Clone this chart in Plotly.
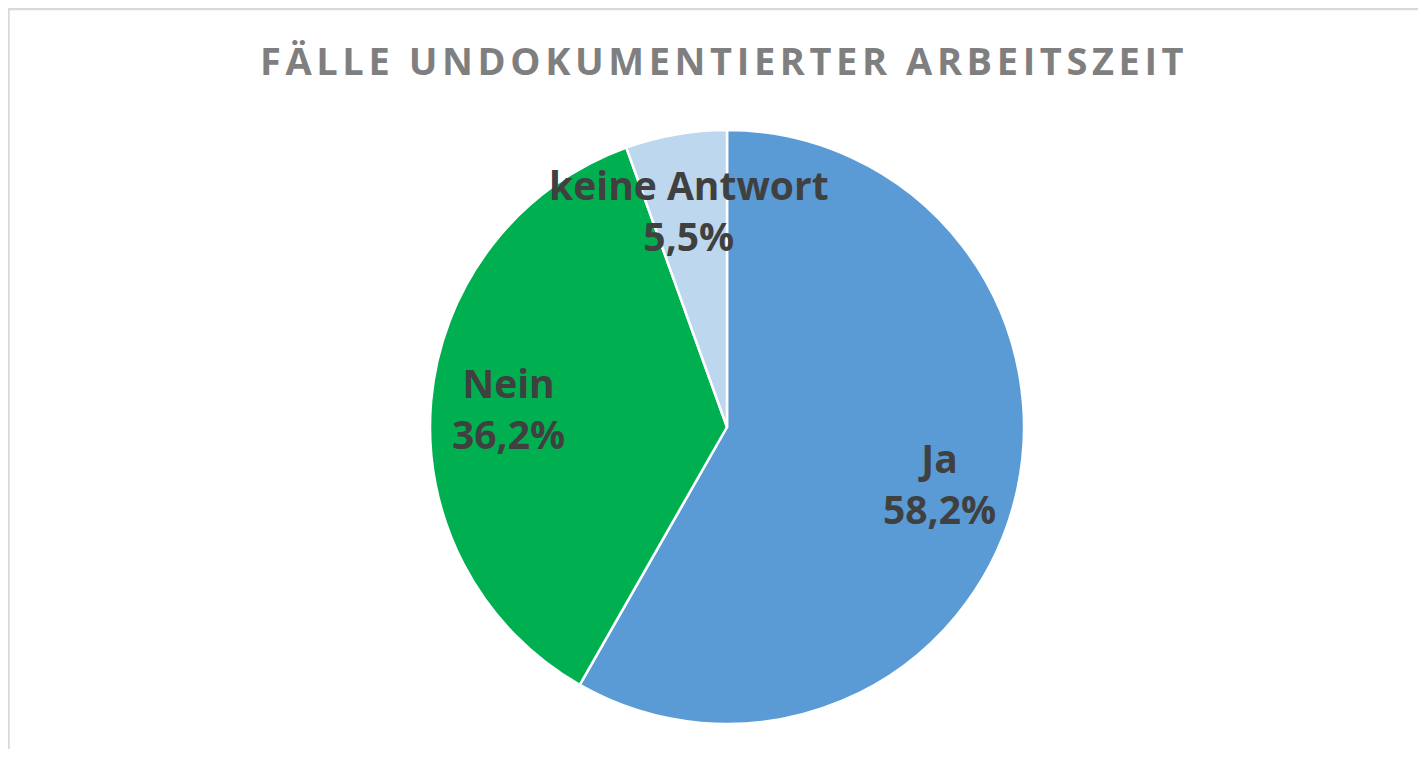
import math
import plotly.graph_objects as go

categories = ["Ja", "Nein", "keine Antwort"]
values = [58.2, 36.2, 5.5]
value_labels = ["58,2%", "36,2%", "5,5%"]
colors = ["#5B9BD5", "#00B050", "#BDD7EE"]
title_text = "FÄLLE UNDOKUMENTIERTER ARBEITSZEIT"

# page body has an 8px margin, so figure pixel coords = screen coords - 8
W, H = 1410, 741
cx_px, cy_px, r_px = 719, 419, 297

dom_x = [(cx_px - r_px) / W, (cx_px + r_px) / W]
dom_y = [(H - (cy_px + r_px)) / H, (H - (cy_px - r_px)) / H]

fig = go.Figure()
fig.add_trace(go.Pie(
    labels=categories,
    values=values,
    sort=False,
    direction="clockwise",
    rotation=0,
    marker=dict(colors=colors, line=dict(color="white", width=2.5)),
    textinfo="none",
    hoverinfo="label+percent",
    showlegend=False,
    domain=dict(x=dom_x, y=dom_y),
))

# label positions derived from slice mid-angles
total = sum(values)
annotations = []
cum = 0.0
for cat, v, lab in zip(categories, values, value_labels):
    mid = (cum + v / 2) / total * 2 * math.pi
    cum += v
    dx = 0.74 * r_px * math.sin(mid)
    dy = 0.74 * r_px * math.cos(mid)
    annotations.append(dict(
        x=(cx_px + dx) / W, y=(H - cy_px + dy) / H,
        xref="paper", yref="paper",
        text=f"{cat}<br>{lab}",
        showarrow=False,
        xanchor="center", yanchor="middle",
        font=dict(family="Open Sans", size=39, color="#404040", weight="bold"),
    ))

annotations.append(dict(
    x=716 / W, y=1 - 52 / H, xref="paper", yref="paper",
    text=f'<span style="letter-spacing:4.6px">{title_text}</span>',
    showarrow=False, xanchor="center", yanchor="middle",
    font=dict(family="Open Sans", size=38, color="#7F7F7F", weight="bold"),
))

shapes = [
    dict(type="line", xref="paper", yref="paper", x0=0, x1=1, y0=1 - 1 / H, y1=1 - 1 / H,
         line=dict(color="#D9D9D9", width=2.5)),
    dict(type="line", xref="paper", yref="paper", x0=0.5 / W, x1=0.5 / W, y0=0, y1=1,
         line=dict(color="#D9D9D9", width=2.5)),
]

fig.update_layout(
    width=W, height=H,
    margin=dict(l=0, r=0, t=0, b=0),
    paper_bgcolor="white",
    plot_bgcolor="white",
    annotations=annotations,
    shapes=shapes,
)

fig.write_html("out.html")
